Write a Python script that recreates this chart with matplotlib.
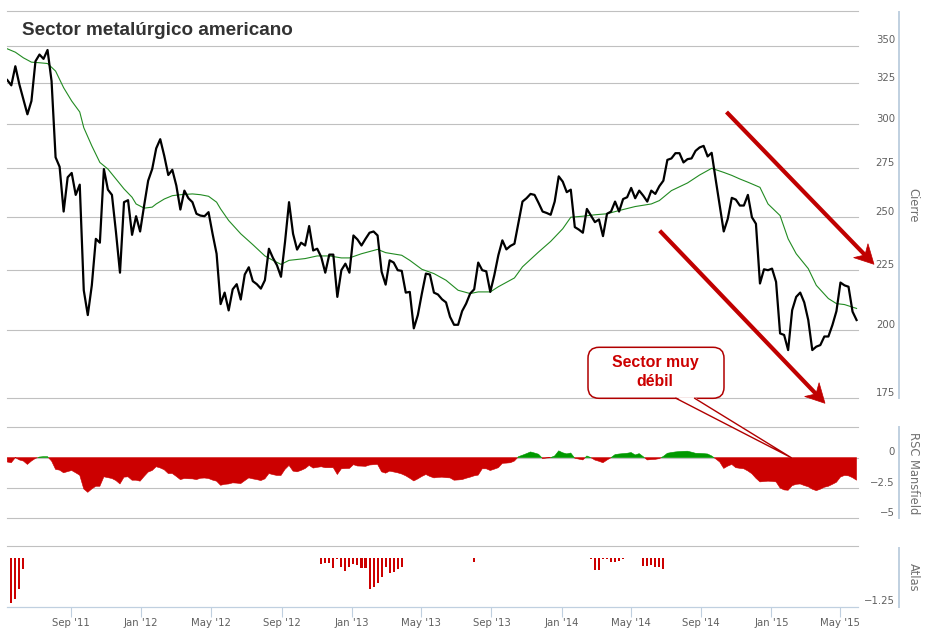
import matplotlib
matplotlib.use("Agg")
import matplotlib.pyplot as plt
import matplotlib.transforms as mtransforms
from matplotlib.patches import FancyBboxPatch, Polygon
from matplotlib.lines import Line2D
from matplotlib.ticker import FixedLocator, NullLocator
import numpy as np
import pandas as pd

plt.rcParams['font.family'] = ['DejaVu Sans']

# ---------------- data (weekly) ----------------
start_date = '2011-05-13'
close = [327.1, 323.7, 336.1, 324.3, 315.0, 305.8, 313.9, 339.4, 343.9, 341.0,
         347.0, 326.4, 281.0, 275.8, 252.6, 270.2, 272.5, 261.0, 266.3, 216.4,
         206.1, 218.5, 239.4, 237.6, 274.6, 263.7, 261.0, 242.6, 224.0, 257.3,
         258.3, 241.3, 250.3, 242.9, 255.6, 268.4, 274.6, 286.0, 291.2, 281.8,
         271.4, 274.2, 265.8, 253.6, 263.2, 259.3, 257.3, 251.5, 250.6, 250.3,
         252.3, 241.8, 232.5, 210.6, 215.4, 208.0, 216.8, 219.0, 212.5, 223.2,
         226.4, 220.3, 219.0, 217.1, 220.7, 234.8, 230.6, 227.3, 222.2, 237.9,
         257.3, 241.8, 234.4, 237.6, 236.3, 245.5, 234.0, 234.8, 231.0, 224.0,
         232.1, 232.1, 213.6, 225.1, 228.0, 224.0, 241.0, 239.1, 236.3, 239.4,
         242.3, 242.9, 241.0, 224.4, 218.8, 229.5, 228.5, 225.1, 224.8, 215.4,
         215.7, 200.8, 206.1, 215.0, 223.6, 223.2, 215.4, 214.6, 212.6, 211.3,
         205.4, 202.2, 202.2, 207.7, 210.8, 215.0, 216.8, 228.5, 225.1, 224.6,
         215.7, 222.9, 231.8, 238.7, 234.5, 236.1, 237.1, 247.1, 257.6, 259.3,
         261.5, 261.0, 256.9, 252.6, 251.9, 251.0, 257.6, 270.7, 267.9, 262.4,
         263.7, 245.0, 243.8, 242.3, 253.9, 250.6, 247.4, 248.7, 240.7, 251.5,
         252.6, 257.6, 252.6, 258.9, 259.8, 264.6, 259.3, 263.2, 260.6, 257.6,
         263.2, 261.5, 265.5, 268.4, 279.6, 280.4, 283.3, 283.3, 278.2, 280.0,
         280.4, 284.6, 286.5, 287.4, 281.5, 283.5, 269.0, 255.7, 242.9, 249.0,
         259.5, 258.6, 255.6, 255.6, 261.0, 249.8, 246.6, 219.3, 225.5, 225.1,
         225.8, 220.0, 198.8, 198.2, 192.4, 208.1, 213.6, 215.4, 211.3, 204.1,
         192.4, 193.7, 194.3, 197.6, 197.6, 202.1, 207.7, 219.7, 218.5, 217.9,
         207.5, 204.1]

ma_week = [0, 2, 4, 6, 8, 10, 12, 14, 16, 18, 19, 21, 23, 25, 27, 29, 31, 32, 34, 36,
           37, 39, 41, 43, 46, 48, 50, 52, 53, 55, 58, 61, 64, 66, 68, 70, 74, 77, 80, 83,
           85, 88, 92, 94, 98, 100, 103, 106, 109, 112, 115, 117, 120, 122, 126, 128, 132,
           135, 138, 140, 143, 146, 149, 152, 156, 160, 162, 165, 169, 172, 175, 178, 180,
           182, 184, 187, 189, 192, 194, 196, 199, 201, 204, 206, 208, 211]
ma_value = [347.8, 345.5, 341.7, 338.8, 338.4, 337.9, 332.9, 322.2, 313.9, 307.2, 297.9,
            287.4, 278.2, 274.6, 269.3, 264.1, 259.8, 256.4, 254.3, 254.8, 256.4, 258.9,
            260.6, 261.1, 261.5, 261.1, 260.3, 257.3, 253.9, 248.2, 241.8, 236.7, 231.5,
            229.5, 227.7, 229.5, 230.3, 231.5, 231.5, 230.6, 230.6, 232.5, 234.5, 233.0,
            231.8, 229.5, 225.5, 223.6, 220.7, 216.4, 215.0, 215.7, 215.7, 217.9, 221.7,
            226.6, 233.3, 238.2, 244.2, 249.8, 250.3, 251.0, 251.5, 253.1, 255.1, 256.4,
            258.1, 263.2, 267.2, 271.4, 275.0, 272.8, 271.2, 269.3, 267.6, 264.9, 256.4,
            250.6, 239.4, 232.5, 225.8, 218.5, 212.9, 210.8, 210.4, 208.8]

rsc = [-0.36, -0.42, 0.0, -0.19, -0.28, -0.56, -0.28, -0.06, 0.05, 0.08,
       0.08, -0.28, -0.97, -1.03, -1.25, -1.15, -1.06, -1.25, -1.45, -2.58,
       -2.86, -2.58, -2.36, -2.36, -1.58, -1.65, -1.72, -1.89, -2.17, -1.61,
       -1.58, -1.86, -1.86, -1.94, -1.55, -1.19, -1.06, -0.75, -0.85, -1.0,
       -1.31, -1.31, -1.55, -1.81, -1.72, -1.74, -1.75, -1.81, -1.7, -1.68,
       -1.72, -1.85, -1.94, -2.28, -2.2, -2.17, -2.08, -2.1, -2.14, -1.9,
       -1.67, -1.75, -1.81, -1.89, -1.75, -1.31, -1.4, -1.47, -1.47, -0.97,
       -0.64, -1.11, -1.17, -1.05, -0.9, -0.64, -0.86, -0.8, -0.75, -0.83,
       -0.83, -0.83, -1.39, -0.92, -0.9, -0.89, -0.58, -0.69, -0.7, -0.72,
       -0.61, -0.58, -0.56, -1.17, -1.28, -1.11, -1.18, -1.25, -1.35, -1.5,
       -1.7, -1.92, -1.75, -1.55, -1.39, -1.55, -1.67, -1.63, -1.61, -1.65,
       -1.67, -1.86, -1.84, -1.81, -1.7, -1.61, -1.5, -1.44, -0.92, -0.92,
       -1.06, -0.95, -0.83, -0.47, -0.45, -0.42, -0.28, 0.08, 0.2, 0.33,
       0.47, 0.38, 0.28, -0.08, -0.03, 0.0, 0.14, 0.56, 0.4, 0.31,
       0.38, -0.05, -0.12, -0.19, 0.14, 0.0, -0.2, -0.3, -0.42, -0.2,
       0.0, 0.25, 0.3, 0.33, 0.36, 0.42, 0.22, 0.33, 0.08, -0.19,
       -0.16, -0.14, -0.08, 0.1, 0.36, 0.42, 0.47, 0.5, 0.52, 0.53,
       0.45, 0.36, 0.35, 0.33, 0.3, 0.14, -0.1, -0.36, -0.89, -0.7,
       -0.56, -0.83, -0.88, -0.92, -1.1, -1.33, -1.7, -2.0, -1.97, -1.94,
       -1.96, -2.0, -2.5, -2.66, -2.69, -2.31, -2.2, -2.17, -2.3, -2.4,
       -2.6, -2.72, -2.6, -2.44, -2.36, -2.2, -2.03, -1.6, -1.47, -1.5,
       -1.65, -1.86]

atlas_week = [1, 2, 3, 4,
              78, 79, 80, 81, 82, 83, 84, 85, 86, 87, 88, 89, 90, 91, 92, 93, 94, 95, 96, 97, 98,
              116,
              145, 146, 147, 148, 149, 150, 151, 152, 153,
              158, 159, 160, 161, 162, 163]
atlas_value = [-1.16, -1.06, -0.78, -0.28,
               -0.15, -0.11, -0.13, -0.26, -0.03, -0.23, -0.33, -0.22, -0.15, -0.17, -0.26,
               -0.24, -0.79, -0.73, -0.63, -0.48, -0.22, -0.37, -0.36, -0.28, -0.22,
               -0.10,
               -0.03, -0.30, -0.30, -0.03, -0.03, -0.09, -0.10, -0.07, -0.03,
               -0.19, -0.19, -0.17, -0.22, -0.22, -0.28]

price_grid = [175, 200, 225, 250, 275, 300, 325, 350, 375]
price_labels = ['175', '200', '225', '250', '275', '300', '325', '350']
rsc_grid = [2.5, 0, -2.5, -5]
rsc_label_vals = [0, -2.5, -5]
rsc_labels = ['0', '\u22122.5', '\u22125']
atlas_grid = [0.31]
atlas_label_vals = [-1.25]
atlas_labels = ['\u22121.25']
x_tick_dates = ['2011-09-01', '2012-01-01', '2012-05-01', '2012-09-01', '2013-01-01',
                '2013-05-01', '2013-09-01', '2014-01-01', '2014-05-01', '2014-09-01',
                '2015-01-01', '2015-05-01']
x_tick_labels = ["Sep '11", "Jan '12", "May '12", "Sep '12", "Jan '13", "May '13",
                 "Sep '13", "Jan '14", "May '14", "Sep '14", "Jan '15", "May '15"]

title = 'Sector metalúrgico americano'
callout_text = 'Sector muy\ndébil'

# ---------------- figure ----------------
W, H = 926, 633
fig = plt.figure(figsize=(W / 100, H / 100), dpi=100)
fig.patch.set_facecolor('white')


def fy(y):
    return 1 - y / H


def P(x, y):
    return (x / 100.0, (H - y) / 100.0)


L, R = 7, 858
ax1 = fig.add_axes([L / W, fy(398.3), (R - L) / W, (398.3 - 10.5) / H])
ax2 = fig.add_axes([L / W, fy(518.3), (R - L) / W, (518.3 - 427.3) / H])
ax3 = fig.add_axes([L / W, fy(606.7), (R - L) / W, (606.7 - 546.3) / H])

dates = pd.date_range(start_date, periods=len(close), freq='7D')
xlim = (dates[0] - pd.Timedelta(days=0.5), dates[-1] + pd.Timedelta(days=2.5))

GRID = '#C0C0C0'
AXLINE = '#C0D0E0'
LABEL = '#606060'
TITLE_C = '#707070'

for ax in (ax1, ax2, ax3):
    ax.set_xlim(*xlim)
    for s in ax.spines.values():
        s.set_visible(False)
    ax.set_facecolor('none')
    ax.tick_params(axis='y', which='both', length=0, labelleft=False, labelright=False)

# price panel
ax1.set_yscale('log')
ax1.set_ylim(175, 375)
ax1.yaxis.set_minor_locator(NullLocator())
ax1.set_yticks([])
for g in price_grid:
    ax1.axhline(g, color=GRID, lw=0.8, clip_on=False, zorder=1)
ax1.plot(dates[ma_week], ma_value, color='#228B22', lw=0.8, zorder=2)
ax1.plot(dates, close, color='black', lw=1.6, zorder=3)
ax1.set_xticks([])

# RSC panel
ax2.set_ylim(-5, 2.5)
ax2.set_yticks([])
for g in rsc_grid:
    ax2.axhline(g, color=GRID, lw=0.8, clip_on=False, zorder=1)
rsc_arr = np.array(rsc)
ax2.fill_between(dates, rsc_arr, 0, where=rsc_arr <= 0, interpolate=True,
                 color='#CC0000', lw=0.4, zorder=2)
ax2.fill_between(dates, rsc_arr, 0, where=rsc_arr >= 0, interpolate=True,
                 color='#009900', lw=0.4, zorder=2)
ax2.set_xticks([])

# Atlas panel
ax3.set_ylim(-1.25, 0.31)
ax3.set_yticks([])
for g in atlas_grid:
    ax3.axhline(g, color=GRID, lw=0.8, clip_on=False, zorder=1)
ax3.bar(dates[atlas_week], atlas_value, width=3.6, color='#CC0000', zorder=2)
ax3.spines['bottom'].set_visible(True)
ax3.spines['bottom'].set_color(AXLINE)
ax3.spines['bottom'].set_linewidth(0.9)
ax3.set_xticks(pd.to_datetime(x_tick_dates))
ax3.set_xticklabels(x_tick_labels)
ax3.tick_params(axis='x', length=7.2, width=0.8, color=AXLINE, labelsize=7.3,
                labelcolor=LABEL, pad=1.0)

# y labels (right side, Highcharts style: just above gridline)
off = mtransforms.ScaledTranslation(0, 2.3 / 100, fig.dpi_scale_trans)
for ax, vals, labs in ((ax1, price_grid[:-1], price_labels),
                       (ax2, rsc_label_vals, rsc_labels),
                       (ax3, atlas_label_vals, atlas_labels)):
    tr = mtransforms.blended_transform_factory(fig.transFigure, ax.transData) + off
    for v, s in zip(vals, labs):
        ax.text(895 / W, v, s, transform=tr, ha='right', va='baseline',
                fontsize=7.3, color=LABEL)

# axis lines and titles on the right
for (top, bot, name) in ((11.5, 398.3, 'Cierre'), (427.3, 518.3, 'RSC Mansfield'),
                         (547.5, 606.7, 'Atlas')):
    fig.add_artist(Line2D([898.7 / W, 898.7 / W], [fy(top), fy(bot)],
                          color=AXLINE, lw=1.4))
    fig.text(913 / W, fy((top + bot) / 2), name, rotation=-90, ha='center',
             va='center', fontsize=8.3, color=TITLE_C)

# title
fig.text(22.5 / W, fy(35), title, ha='left', va='baseline', fontsize=13.6,
         fontweight='bold', color='#333333', family=['Liberation Sans', 'DejaVu Sans'])

# arrows
ARROW_C = '#C00000'


def arrow(x0, y0, x1, y1):
    d = np.array([x1 - x0, y1 - y0], dtype=float)
    u = d / np.hypot(*d)
    n = np.array([-u[1], u[0]])
    tip = np.array([x1, y1], dtype=float)
    Lh, Wh, notch = 19.0, 10.0, 6.0
    base = tip - Lh * u
    w1 = base + Wh * n
    w2 = base - Wh * n
    nt = tip - (Lh - notch) * u
    lend = tip - (Lh - notch - 1) * u
    fig.add_artist(Line2D([P(x0, y0)[0], P(*lend)[0]], [P(x0, y0)[1], P(*lend)[1]],
                          transform=fig.dpi_scale_trans, color=ARROW_C, lw=3.0,
                          solid_capstyle='butt', zorder=5))
    fig.add_artist(Polygon([P(*tip), P(*w1), P(*nt), P(*w2)], closed=True,
                           transform=fig.dpi_scale_trans, fc=ARROW_C, ec=ARROW_C,
                           lw=0.5, zorder=5))


arrow(726.5, 112, 874, 264.3)
arrow(659.7, 230.7, 825, 403.3)

# callout
CALL_EC = '#B00000'
box = FancyBboxPatch(P(588, 398.3), 136 / 100, 51 / 100,
                     boxstyle='round,pad=0,rounding_size=0.11',
                     transform=fig.dpi_scale_trans, fc='white', ec=CALL_EC, lw=1.1,
                     zorder=6)
fig.add_artist(box)
fig.add_artist(Polygon([P(676, 397.2), P(791.3, 457.7), P(694.7, 397.2)], closed=True,
                       transform=fig.dpi_scale_trans, fc='white', ec='none', zorder=7))
fig.add_artist(Line2D([P(676, 398.3)[0], P(791.3, 457.7)[0], P(694.7, 398.3)[0]],
                      [P(676, 398.3)[1], P(791.3, 457.7)[1], P(694.7, 398.3)[1]],
                      transform=fig.dpi_scale_trans, color=CALL_EC, lw=1.0, zorder=7))
fig.text(*P(655, 372), callout_text, transform=fig.dpi_scale_trans, ha='center',
         va='center', multialignment='center', fontsize=11.4, fontweight='bold',
         color='#CC0000', linespacing=1.3, family=['Liberation Sans', 'DejaVu Sans'],
         zorder=8)

fig.savefig('out.png', dpi=100, facecolor='white')
